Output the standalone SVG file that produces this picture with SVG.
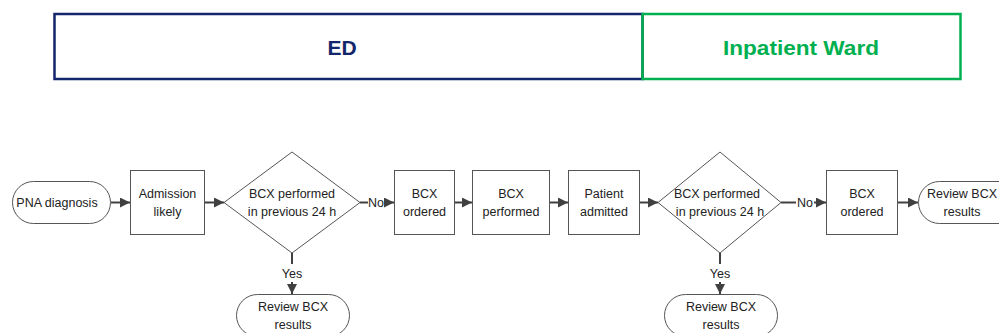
<svg xmlns="http://www.w3.org/2000/svg" width="999" height="333" viewBox="0 0 999 333">
<defs>
<marker id="ah" viewBox="0 0 10 10" refX="10" refY="5" markerWidth="10" markerHeight="10" markerUnits="userSpaceOnUse" orient="auto">
<path d="M0,0 L10,5 L0,10 Z" fill="#404040"/>
</marker>
<style>
.shp{fill:#fff;stroke:#555;stroke-width:1}
.t{font-family:"Liberation Sans",Arial,sans-serif;font-size:12.5px;fill:#222;text-anchor:middle}
.c{fill:none;stroke:#404040;stroke-width:2}
.lbl{font-family:"Liberation Sans",Arial,sans-serif;font-size:12.5px;fill:#222;text-anchor:middle}
.hd{font-family:"Liberation Sans",Arial,sans-serif;font-size:21px;font-weight:bold;text-anchor:middle}
</style>
</defs>
<rect width="999" height="333" fill="#fff"/>
<g id="header-ed">
<rect x="54.5" y="14" width="588" height="65" fill="none" stroke="#13266b" stroke-width="2.5"/>
<text class="hd" x="342" y="55" fill="#13266b">ED</text>
</g>
<g id="header-ward">
<rect x="642.5" y="14" width="318" height="65" fill="none" stroke="#00b050" stroke-width="2.5"/>
<text class="hd" x="801" y="55" fill="#00b050" textLength="156" lengthAdjust="spacingAndGlyphs">Inpatient Ward</text>
</g>
<g id="connectors">
<line class="c" x1="111" y1="202.5" x2="130" y2="202.5" marker-end="url(#ah)"/>
<line class="c" x1="205" y1="202.5" x2="224" y2="202.5" marker-end="url(#ah)"/>
<line class="c" x1="360" y1="202.5" x2="368" y2="202.5"/>
<line class="c" x1="385" y1="202.5" x2="394" y2="202.5" marker-end="url(#ah)"/>
<text class="lbl" x="376" y="207">No</text>
<line class="c" x1="454" y1="202.5" x2="472" y2="202.5" marker-end="url(#ah)"/>
<line class="c" x1="549" y1="202.5" x2="568" y2="202.5" marker-end="url(#ah)"/>
<line class="c" x1="639" y1="202.5" x2="658" y2="202.5" marker-end="url(#ah)"/>
<line class="c" x1="781" y1="202.5" x2="796" y2="202.5"/>
<line class="c" x1="814" y1="202.5" x2="826" y2="202.5" marker-end="url(#ah)"/>
<text class="lbl" x="805" y="207">No</text>
<line class="c" x1="897" y1="202.5" x2="918" y2="202.5" marker-end="url(#ah)"/>
<line class="c" x1="292" y1="253" x2="292" y2="264"/>
<line class="c" x1="292" y1="282" x2="292" y2="294" marker-end="url(#ah)"/>
<text class="lbl" x="292" y="278">Yes</text>
<line class="c" x1="720" y1="253" x2="720" y2="264"/>
<line class="c" x1="720" y1="282" x2="720" y2="294" marker-end="url(#ah)"/>
<text class="lbl" x="720" y="278">Yes</text>
</g>
<g id="pna">
<rect class="shp" x="12.5" y="181.5" width="98" height="42" rx="21"/>
<text class="t" x="57" y="207">PNA diagnosis</text>
</g>
<g id="admission">
<rect class="shp" x="130.5" y="170.5" width="74" height="64"/>
<text class="t" x="167.5" y="198">Admission</text>
<text class="t" x="167.5" y="216">likely</text>
</g>
<g id="decision1">
<polygon class="shp" points="292,152 360,202.5 292,253 224,202.5"/>
<text class="t" x="292" y="198">BCX performed</text>
<text class="t" x="292" y="216">in previous 24 h</text>
</g>
<g id="review1">
<rect class="shp" x="236.5" y="294.5" width="113" height="42" rx="21"/>
<text class="t" x="293" y="311">Review BCX</text>
<text class="t" x="293" y="329">results</text>
</g>
<g id="ordered1">
<rect class="shp" x="394.5" y="170.5" width="60" height="64"/>
<text class="t" x="424.5" y="198">BCX</text>
<text class="t" x="424.5" y="216">ordered</text>
</g>
<g id="performed">
<rect class="shp" x="472.5" y="170.5" width="77" height="64"/>
<text class="t" x="511" y="198">BCX</text>
<text class="t" x="511" y="216">performed</text>
</g>
<g id="admitted">
<rect class="shp" x="568.5" y="170.5" width="71" height="64"/>
<text class="t" x="604" y="198">Patient</text>
<text class="t" x="604" y="216">admitted</text>
</g>
<g id="decision2">
<polygon class="shp" points="720,152 781,202.5 720,253 658,202.5"/>
<text class="t" x="717" y="198">BCX performed</text>
<text class="t" x="720" y="216">in previous 24 h</text>
</g>
<g id="review2">
<rect class="shp" x="664.5" y="294.5" width="113" height="42" rx="21"/>
<text class="t" x="721" y="311">Review BCX</text>
<text class="t" x="721" y="329">results</text>
</g>
<g id="ordered2">
<rect class="shp" x="826.5" y="170.5" width="71" height="64"/>
<text class="t" x="862" y="198">BCX</text>
<text class="t" x="862" y="216">ordered</text>
</g>
<g id="review3">
<rect class="shp" x="918.5" y="181.5" width="113" height="42" rx="21"/>
<text class="t" x="962" y="198">Review BCX</text>
<text class="t" x="962" y="216">results</text>
</g>
</svg>
